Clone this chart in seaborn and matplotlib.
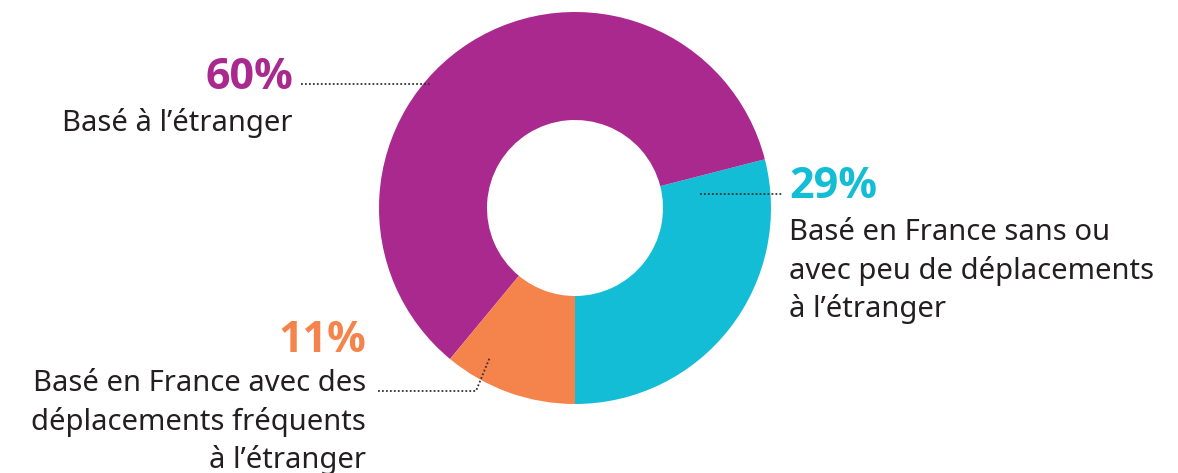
import matplotlib
matplotlib.use("Agg")
import matplotlib.pyplot as plt
import seaborn as sns

shares = [29, 60, 11]
pct_labels = ["29%", "60%", "11%"]
descriptions = [
    "Basé en France sans ou\navec peu de déplacements\nà l’étranger",
    "Basé à l’étranger",
    "Basé en France avec des\ndéplacements fréquents\nà l’étranger",
]
colors = ["#14BDD6", "#A9298F", "#F5834C"]

sns.set_theme(style="white")
plt.rcParams['font.family'] = ['Noto Sans', 'DejaVu Sans']

W, H = 1178, 473
fig = plt.figure(figsize=(W / 100, H / 100), dpi=100)
ax = fig.add_axes([0, 0, 1, 1])

def Y(yp):
    return H - yp

ax.pie(shares, colors=colors, startangle=-90, counterclock=True,
       center=(575, Y(208)), radius=196,
       wedgeprops=dict(width=108, linewidth=0), frame=True)
ax.set_xlim(0, W)
ax.set_ylim(0, H)
ax.set_aspect("equal")
ax.axis("off")

txt = "#231F20"
fs_pct = 31
fs_lbl = 21
pct_font = dict(family=['Open Sans', 'DejaVu Sans'], fontweight="bold", fontsize=fs_pct)
# 60%
ax.text(293, Y(78), pct_labels[1], color=colors[1], ha="right", va="center", **pct_font)
ax.text(293, Y(120), descriptions[1], color=txt, fontsize=fs_lbl, ha="right", va="center_baseline",
        linespacing=1.37)
# 29%
ax.text(789, Y(187), pct_labels[0], color=colors[0], ha="left", va="center", **pct_font)
ax.text(789, Y(218), descriptions[0], color=txt, fontsize=fs_lbl, ha="left", va="top",
        linespacing=1.37)
# 11%
ax.text(366, Y(340), pct_labels[2], color=colors[2], ha="right", va="center", **pct_font)
ax.text(366, Y(369), descriptions[2], color=txt, fontsize=fs_lbl, ha="right", va="top",
        linespacing=1.37)

ls = dict(color="#333333", linestyle=(0, (1, 1.2)), linewidth=1.3)
ax.plot([301, 431], [Y(84), Y(84)], **ls)
ax.plot([700, 783], [Y(194), Y(194)], **ls)
ax.plot([378, 476, 490], [Y(391), Y(391), Y(357)], **ls)

fig.savefig("out.png", dpi=100)
